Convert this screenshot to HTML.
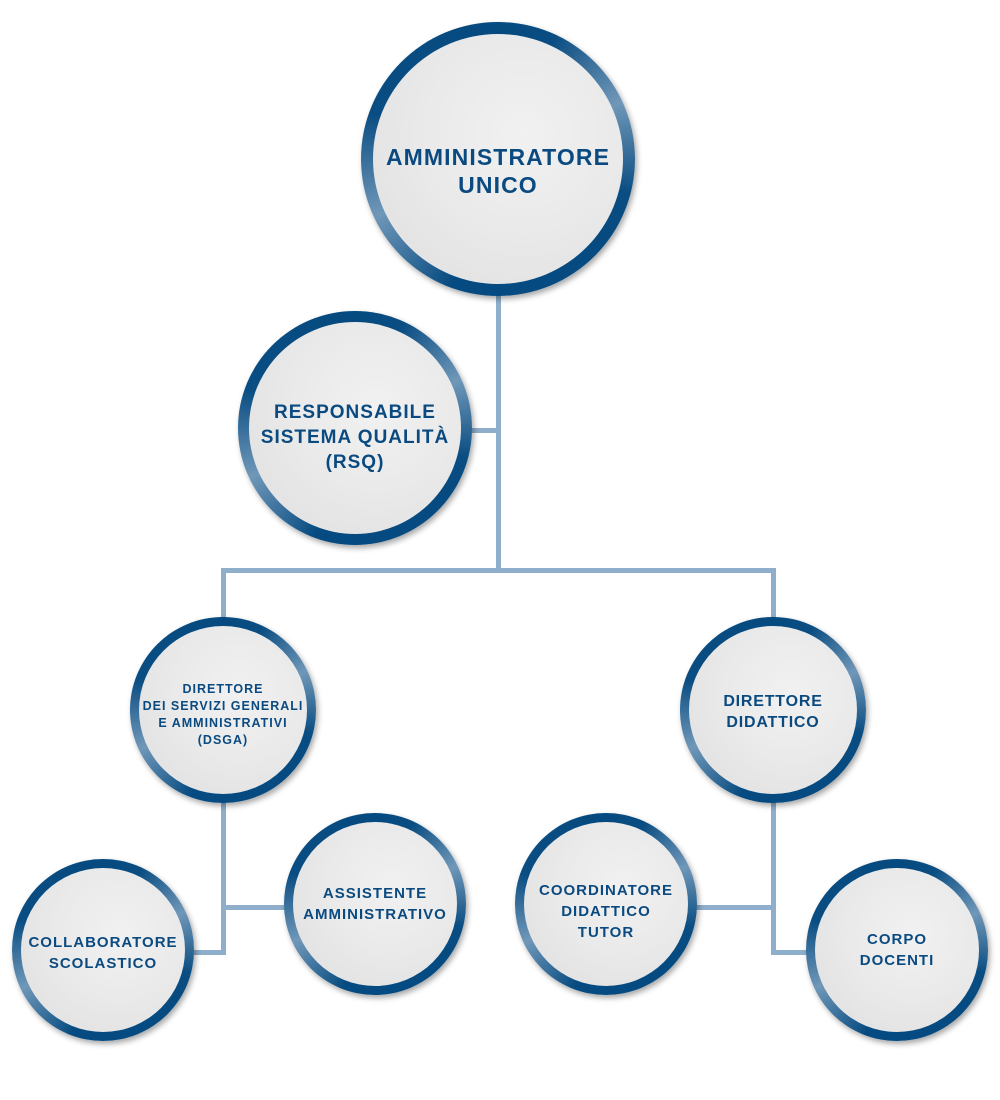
<!DOCTYPE html>
<html><head><meta charset="utf-8"><style>
html,body{margin:0;padding:0;background:#fff;}
body{width:1000px;height:1100px;position:relative;overflow:hidden;font-family:"Liberation Sans",sans-serif;}
.l{position:absolute;background:#8eaecb;}
.c{position:absolute;border-radius:50%;box-sizing:border-box;
background:conic-gradient(from 0deg,#054a80 0deg,#0a4d82 25deg,#6f97b8 65deg,#0a4d82 105deg,#054a80 130deg,#054a80 200deg,#6f97b8 245deg,#0a4d82 290deg,#054a80 360deg);
box-shadow:2px 3px 6px rgba(0,0,0,0.35);}
.c .in{position:absolute;border-radius:50%;
background:radial-gradient(circle at 60% 40%,#f1f1f1 0%,#e9e9e9 50%,#dedede 100%);
display:flex;align-items:center;justify-content:center;text-align:center;color:#0a4a80;font-weight:bold;box-sizing:border-box;white-space:nowrap;}
</style></head><body>
<div class="l" style="left:496px;top:290px;width:5px;height:283px"></div>
<div class="l" style="left:470px;top:428px;width:30px;height:5px"></div>
<div class="l" style="left:221px;top:568px;width:555px;height:5px"></div>
<div class="l" style="left:221px;top:568px;width:5px;height:52px"></div>
<div class="l" style="left:771px;top:568px;width:5px;height:52px"></div>
<div class="l" style="left:221px;top:800px;width:5px;height:155px"></div>
<div class="l" style="left:221px;top:905px;width:66px;height:5px"></div>
<div class="l" style="left:190px;top:950px;width:36px;height:5px"></div>
<div class="l" style="left:771px;top:800px;width:5px;height:155px"></div>
<div class="l" style="left:694px;top:905px;width:82px;height:5px"></div>
<div class="l" style="left:771px;top:950px;width:40px;height:5px"></div>

<div class="c" style="left:361px;top:22px;width:274px;height:274px"><div class="in" style="left:12px;top:12px;right:12px;bottom:12px;padding-top:24px;font-size:23px;line-height:28px;letter-spacing:1.1px">AMMINISTRATORE<br>UNICO</div></div>
<div class="c" style="left:238px;top:311px;width:234px;height:234px"><div class="in" style="left:11px;top:11px;right:11px;bottom:11px;padding-top:18px;font-size:19px;line-height:25px;letter-spacing:1px">RESPONSABILE<br>SISTEMA QUALITÀ<br>(RSQ)</div></div>
<div class="c" style="left:130px;top:617px;width:186px;height:186px"><div class="in" style="left:9px;top:9px;right:9px;bottom:9px;padding-top:10px;font-size:12.5px;line-height:17px;letter-spacing:1px">DIRETTORE<br>DEI SERVIZI GENERALI<br>E AMMINISTRATIVI<br>(DSGA)</div></div>
<div class="c" style="left:680px;top:617px;width:186px;height:186px"><div class="in" style="left:9px;top:9px;right:9px;bottom:9px;padding-top:4px;font-size:16px;line-height:21px;letter-spacing:0.8px">DIRETTORE<br>DIDATTICO</div></div>
<div class="c" style="left:12px;top:859px;width:182px;height:182px"><div class="in" style="left:9px;top:9px;right:9px;bottom:9px;padding-top:6px;font-size:15px;line-height:21px;letter-spacing:1px">COLLABORATORE<br>SCOLASTICO</div></div>
<div class="c" style="left:284px;top:813px;width:182px;height:182px"><div class="in" style="left:9px;top:9px;right:9px;bottom:9px;font-size:15px;line-height:21px;letter-spacing:1px">ASSISTENTE<br>AMMINISTRATIVO</div></div>
<div class="c" style="left:515px;top:813px;width:182px;height:182px"><div class="in" style="left:9px;top:9px;right:9px;bottom:9px;padding-top:14px;font-size:15px;line-height:21px;letter-spacing:1px">COORDINATORE<br>DIDATTICO<br>TUTOR</div></div>
<div class="c" style="left:806px;top:859px;width:182px;height:182px"><div class="in" style="left:9px;top:9px;right:9px;bottom:9px;font-size:15px;line-height:21px;letter-spacing:1px">CORPO<br>DOCENTI</div></div>
</body></html>
